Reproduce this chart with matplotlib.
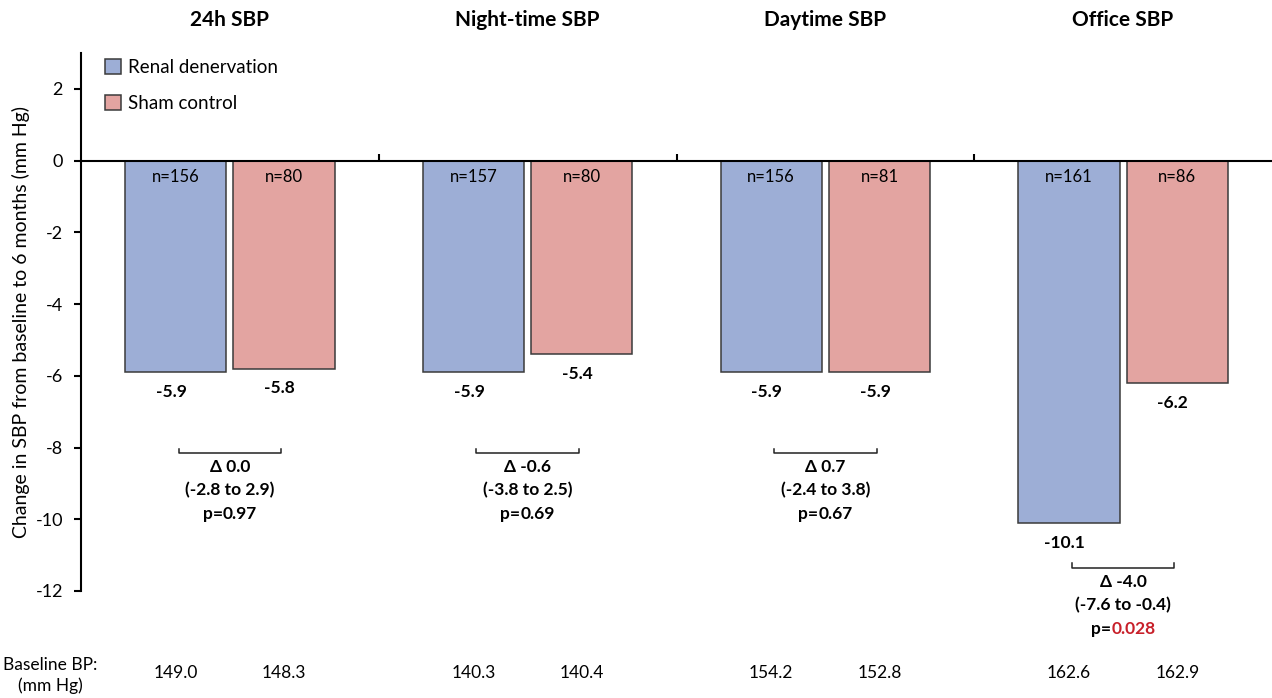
import numpy as np
import matplotlib
matplotlib.use('Agg')
import matplotlib.pyplot as plt
from matplotlib.offsetbox import TextArea, HPacker, AnnotationBbox

plt.rcParams['font.family'] = ['Lato', 'DejaVu Sans']
plt.rcParams['axes.unicode_minus'] = False

# data
categories = ['24h SBP', 'Night-time SBP', 'Daytime SBP', 'Office SBP']
rdn = [-5.9, -5.9, -5.9, -10.1]
sham = [-5.8, -5.4, -5.9, -6.2]
n_rdn = [156, 157, 156, 161]
n_sham = [80, 80, 81, 86]
delta = ['0.0', '-0.6', '0.7', '-4.0']
ci = ['(-2.8 to 2.9)', '(-3.8 to 2.5)', '(-2.4 to 3.8)', '(-7.6 to -0.4)']
pvals = ['0.97', '0.69', '0.67', '0.028']
significant = [False, False, False, True]
base_rdn = ['149.0', '140.3', '154.2', '162.6']
base_sham = ['148.3', '140.4', '152.8', '162.9']

blue = '#9DAED6'
red = '#E3A4A1'
edge = '#3a3a3a'

fig = plt.figure(figsize=(12.72, 6.98), dpi=100)
ax = fig.add_axes([81/1272, 1-591/698, 1-81/1272, 538/698])

x = np.arange(len(categories))
w = 0.34
off = 0.182
ax.bar(x - off, rdn, w, color=blue, edgecolor=edge, linewidth=1.1, label='Renal denervation')
ax.bar(x + off, sham, w, color=red, edgecolor=edge, linewidth=1.1, label='Sham control')

ax.set_xlim(-0.5, 3.5)
ax.set_ylim(-12, 3)
ax.set_yticks(np.arange(-12, 3, 2))
ax.tick_params(axis='y', labelsize=13, length=5, width=1.5, direction='out', pad=8)
ax.spines['top'].set_visible(False)
ax.spines['right'].set_visible(False)
ax.spines['bottom'].set_position(('data', 0))
ax.spines['left'].set_linewidth(1.5)
ax.spines['bottom'].set_linewidth(1.5)
ax.set_xticks([0.5, 1.5, 2.5])
ax.set_xticklabels([])
ax.tick_params(axis='x', direction='in', length=5, width=1.5, top=False)

ax.set_ylabel('Change in SBP from baseline to 6 months (mm Hg)', fontsize=14, labelpad=4)

for i in range(len(categories)):
    ax.text(x[i], 3.92, categories[i], ha='center', va='center', fontsize=15,
            fontweight='bold', clip_on=False)
    ax.text(x[i] - off, -0.47, 'n=%d' % n_rdn[i], ha='center', va='center', fontsize=12)
    ax.text(x[i] + off, -0.47, 'n=%d' % n_sham[i], ha='center', va='center', fontsize=12)
    ax.text(x[i] - off - 0.015, rdn[i] - 0.55, '%.1f' % rdn[i], ha='center', va='center',
            fontsize=12.5, fontweight='bold')
    ax.text(x[i] + off - 0.015, sham[i] - 0.55, '%.1f' % sham[i], ha='center', va='center',
            fontsize=12.5, fontweight='bold')

    yb = min(min(rdn[i], sham[i]) - 1.25, -8.15)
    x0, x1 = x[i] - off + 0.01, x[i] + off - 0.01
    ax.plot([x0, x0, x1, x1], [yb + 0.12, yb, yb, yb + 0.12], color='#222222', lw=1.1,
            clip_on=False)
    xc = (x0 + x1) / 2
    ax.text(xc, yb - 0.39, '\u0394 ' + delta[i], ha='center', va='center', fontsize=12.5,
            fontweight='bold', clip_on=False)
    ax.text(xc, yb - 1.03, ci[i], ha='center', va='center', fontsize=12.5,
            fontweight='bold', clip_on=False)
    pcol = '#C8202A' if significant[i] else 'black'
    box = HPacker(children=[TextArea('p=', textprops=dict(fontsize=12.5, fontweight='bold')),
                            TextArea(pvals[i], textprops=dict(fontsize=12.5, fontweight='bold',
                                                              color=pcol))],
                  align='baseline', pad=0, sep=0)
    ab = AnnotationBbox(box, (xc, yb - 1.7), frameon=False, box_alignment=(0.5, 0.5),
                        annotation_clip=False)
    ax.add_artist(ab)

    # baseline row
    for xv, s in [(x[i] - off, base_rdn[i]), (x[i] + off, base_sham[i])]:
        fx = (81 + (xv + 0.5) * (1191 / 4)) / 1272
        fig.text(fx, 1 - 673/698, s, ha='center', va='center', fontsize=12.5)

fig.text(50/1272, 1 - 665/698, 'Baseline BP:', ha='center', va='center', fontsize=12.5)
fig.text(50/1272, 1 - 686/698, '(mm Hg)', ha='center', va='center', fontsize=12.5)

ax.legend(loc='upper left', bbox_to_anchor=(0.006, 1.02), frameon=False, fontsize=13.5,
          handlelength=0.85, handleheight=0.85, labelspacing=1.0, handletextpad=0.35)

fig.savefig('out.png', dpi=100)
